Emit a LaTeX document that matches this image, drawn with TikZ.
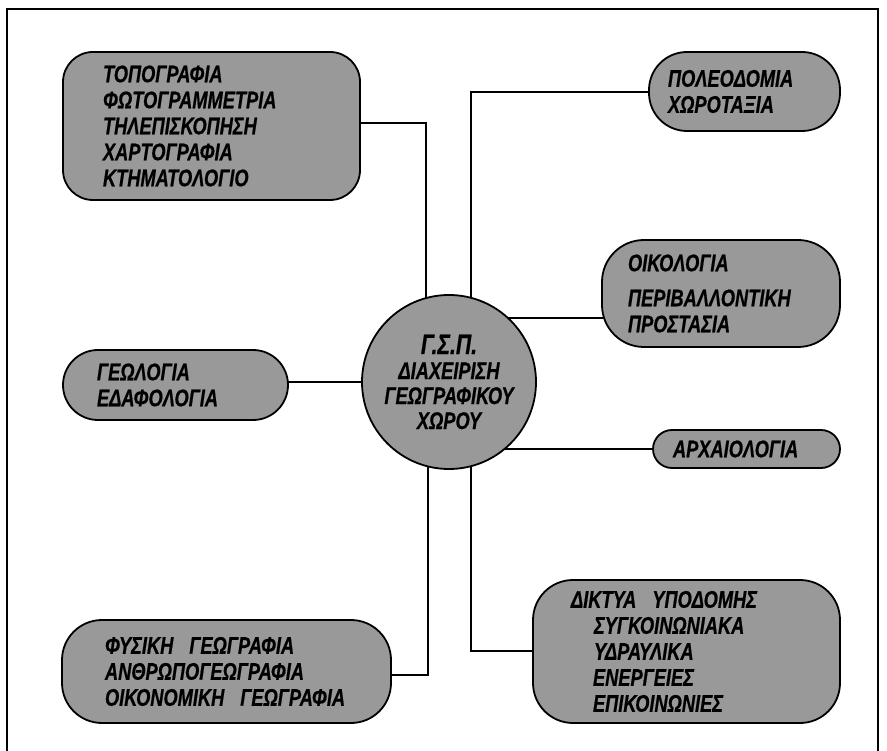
\documentclass[tikz,border=0pt]{standalone}
\usepackage{fontspec}
\setmainfont{Liberation Sans}[FakeStretch=0.76, FakeBold=0.6]
\pgfdeclarelayer{bg}
\pgfsetlayers{bg,main}
\tikzset{
  gbox/.style={draw=black, line width=1.8pt, fill=black!40, rectangle, align=left,
    inner ysep=0pt, font=\fontsize{24}{26}\selectfont\bfseries\itshape},
  gcircle/.style={draw=black, line width=1.8pt, fill=black!40, circle, align=center,
    inner sep=0pt, minimum size=174pt, font=\fontsize{24}{25}\selectfont\bfseries\itshape},
  link/.style={line width=1.3pt, draw=black},
  frameline/.style={line width=2pt, draw=black}
}
\begin{document}
\begin{tikzpicture}[x=1pt,y=-1pt]
\useasboundingbox (0,0) rectangle (887,751);
% frame
\coordinate (fbl) at (7,751);
\coordinate (ftl) at (7,9);
\coordinate (ftr) at (878,9);
\coordinate (fbr) at (878,751);
\draw[frameline] (fbl) -- (ftl) -- (ftr) -- (fbr);

% centre
\node[gcircle] (centre) at (449,382)
  {{\fontsize{28}{28}\selectfont Γ.Σ.Π.}\\ΔΙΑΧΕΙΡΙΣΗ\\ΓΕΩΓΡΑΦΙΚΟΥ\\ΧΩΡΟΥ};

% boxes
\node[gbox, rounded corners=30pt, minimum height=148pt, inner xsep=40pt, text width=217pt]
  (topo) at (211.5,126)
  {ΤΟΠΟΓΡΑΦΙΑ\\ΦΩΤΟΓΡΑΜΜΕΤΡΙΑ\\ΤΗΛΕΠΙΣΚΟΠΗΣΗ\\ΧΑΡΤΟΓΡΑΦΙΑ\\ΚΤΗΜΑΤΟΛΟΓΙΟ};
\node[gbox, rounded corners=38pt, minimum height=79pt, inner xsep=19pt, text width=153pt]
  (poleo) at (744.5,91.5)
  {ΠΟΛΕΟΔΟΜΙΑ\\ΧΩΡΟΤΑΞΙΑ};
\node[gbox, rounded corners=42pt, minimum height=107pt, inner xsep=26pt, text width=186pt]
  (oiko) at (721,293.5)
  {ΟΙΚΟΛΟΓΙΑ\\[9pt]ΠΕΡΙΒΑΛΛΟΝΤΙΚΗ\\ΠΡΟΣΤΑΣΙΑ};
\node[gbox, rounded corners=35pt, minimum height=70pt, inner xsep=34pt, text width=157pt]
  (geo) at (175.5,385)
  {ΓΕΩΛΟΓΙΑ\\ΕΔΑΦΟΛΟΓΙΑ};
\node[gbox, rounded corners=19pt, minimum height=38pt, inner xsep=20pt, text width=147pt]
  (arch) at (746.5,449)
  {ΑΡΧΑΙΟΛΟΓΙΑ};
\node[gbox, rounded corners=40pt, minimum height=103pt, inner xsep=43pt, text width=243pt]
  (fysiki) at (226.5,671.5)
  {ΦΥΣΙΚΗ\ \ ΓΕΩΓΡΑΦΙΑ\\ΑΝΘΡΩΠΟΓΕΩΓΡΑΦΙΑ\\ΟΙΚΟΝΟΜΙΚΗ\ \ ΓΕΩΓΡΑΦΙΑ};
\node[gbox, rounded corners=40pt, minimum height=143pt, inner xsep=38pt, text width=231pt]
  (diktya) at (686.5,651.5)
  {ΔΙΚΤΥΑ\ \ ΥΠΟΔΟΜΗΣ\\\hspace*{23pt}ΣΥΓΚΟΙΝΩΝΙΑΚΑ\\\hspace*{23pt}ΥΔΡΑΥΛΙΚΑ\\\hspace*{22pt}ΕΝΕΡΓΕΙΕΣ\\\hspace*{22pt}ΕΠΙΚΟΙΝΩΝΙΕΣ};

% junctions
\coordinate (j1) at (426,123);
\coordinate (j2) at (471,92);
\coordinate (j3) at (560,318);
\coordinate (j4) at (428,675);
\coordinate (j5) at (471,651);

\begin{pgfonlayer}{bg}
\draw[link] (topo.center |- j1) -- (j1) -- (j1 |- centre.center);
\draw[link] (poleo.center |- j2) -- (j2) -- (j2 |- centre.center);
\draw[link] (centre.center |- j3) -- (oiko.center |- j3);
\draw[link] (geo.center |- centre.center) -- (centre.center);
\draw[link] (centre.center |- arch.center) -- (arch.center);
\draw[link] (fysiki.center |- j4) -- (j4) -- (j4 |- centre.center);
\draw[link] (j5 |- centre.center) -- (j5) -- (diktya.center |- j5);
\end{pgfonlayer}
\end{tikzpicture}
\end{document}
